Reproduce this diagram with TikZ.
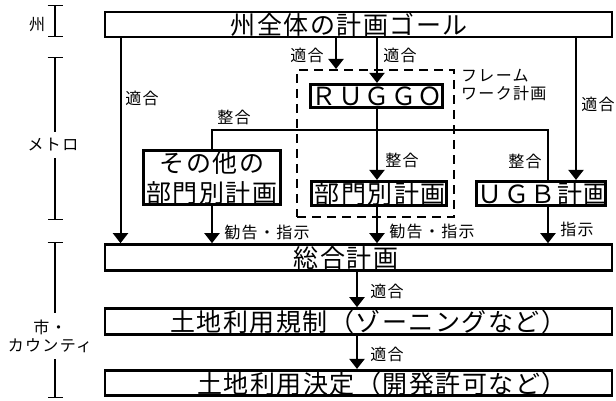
\documentclass[tikz,border=0pt]{standalone}
\usepackage{fontspec}
\newfontfamily\jbig[LetterSpace=6]{Noto Sans CJK JP}
\newfontfamily\jsm[LetterSpace=8]{Noto Sans CJK JP}
\usetikzlibrary{arrows.meta}
\begin{document}
\begin{tikzpicture}[x=1pt,y=-1pt,
  box/.style={draw, line width=2.6pt, inner sep=0pt},
  big/.style={font=\jbig\fontsize{25}{30}\selectfont, inner sep=0pt},
  sm/.style={font=\jsm\fontsize{16}{18}\selectfont, inner sep=0pt},
  arr/.style={line width=2pt, -{Triangle[width=15pt,length=10pt]}},
  conn/.style={line width=2pt},
  frm/.style={draw, line width=2pt, dash pattern=on 9pt off 6pt, inner sep=0pt},
  brk/.style={line width=1.4pt, {Bar[width=15pt]}-{Bar[width=15pt]}},
]
\useasboundingbox (0,0) rectangle (616,401);

% x positions of vertical connectors
\coordinate (xA) at (120.5,0);
\coordinate (xB) at (336,0);
\coordinate (xC) at (377,0);
\coordinate (xD) at (576,0);
\coordinate (xE) at (212,0);
\coordinate (xF) at (548,0);
\coordinate (xG) at (357,0);

% boxes
\node[box, minimum width=507pt, minimum height=25pt] (goal) at (358.5,24.5) {};
\node[big] (goalT) at (349,25) {州全体の計画ゴール};

\node[frm, minimum width=157pt, minimum height=147pt] (frame) at (375.5,143.5) {};

\node[box, minimum width=131.5pt, minimum height=23.5pt] (ruggo) at (376.5,96) {};
\node[big] (ruggoT) at (377,96.5) {ＲＵＧＧＯ};

\node[box, minimum width=137.5pt, minimum height=54.5pt] (sonota) at (212,177.5) {};
\node[big, align=center] (sonotaT) at (212,178.5) {その他の\\部門別計画};

\node[box, minimum width=135.5pt, minimum height=24.5pt] (bumon) at (379,193.5) {};
\node[big] (bumonT) at (380,194) {部門別計画};

\node[box, minimum width=129.5pt, minimum height=24.5pt] (ugb) at (541,193.5) {};
\node[big] (ugbT) at (543,194) {ＵＧＢ計画};

\node[box, minimum width=507pt, minimum height=26pt] (sogo) at (358.5,257.5) {};
\node[big] (sogoT) at (346,258) {総合計画};

\node[box, minimum width=507pt, minimum height=26pt] (kisei) at (358.5,321.5) {};
\node[big] (kiseiT) at (368,322) {土地利用規制（ゾーニングなど）};

\node[box, minimum width=507pt, minimum height=25.5pt] (kettei) at (358.5,383) {};
\node[big] (ketteiT) at (382,383.5) {土地利用決定（開発許可など）};

\node[sm, anchor=north west, align=left] (frameL) at (461,69) {フレーム\\ワーク計画};

% connectors from the state goal
\draw[arr] (goal.south -| xA) -- (sogo.north -| xA);
\draw[arr] (goal.south -| xB) -- (frame.north -| xB);
\draw[arr] (goal.south -| xC) -- (ruggo.north -| xC);
\draw[arr] (goal.south -| xD) -- (ugb.north -| xD);
\node[sm] (lA) at (142,98) {適合};
\node[sm] (lB) at (307,55) {適合};
\node[sm] (lC) at (400,55) {適合};
\node[sm] (lD) at (598,104) {適合};

% consistency links
\draw[arr] (ruggo.south -| xC) -- (bumon.north -| xC);
\node[sm] (lE) at (402,160) {整合};
\coordinate (jl) at (212,130);
\coordinate (jr) at (548,130);
\draw[conn] (sonota.north) -- (jl) -- (jr) -- (ugb.north -| jr);
\node[sm] (lF) at (234,117) {整合};
\node[sm] (lG) at (525,161) {整合};

% to comprehensive plan
\draw[arr] (sonota.south -| xE) -- (sogo.north -| xE);
\draw[arr] (bumon.south -| xC) -- (sogo.north -| xC);
\draw[arr] (ugb.south -| xF) -- (sogo.north -| xF);
\node[sm] (lH) at (267,232) {勧告・指示};
\node[sm] (lI) at (432,231) {勧告・指示};
\node[sm] (lJ) at (577,229) {指示};

% lower levels
\draw[arr] (sogo.south -| xG) -- (kisei.north -| xG);
\draw[arr] (kisei.south -| xG) -- (kettei.north -| xG);
\node[sm] (lK) at (387,291) {適合};
\node[sm] (lL) at (387,354) {適合};

% level brackets
\coordinate (shuT) at (55,5);
\coordinate (shuB) at (55,37);
\draw[brk] (shuT) -- (shuB);
\node[sm] (shu) at (37,25) {州};

\coordinate (metT) at (55,57);
\coordinate (metB) at (55,220);
\draw[brk] (metT) -- (metB);
\node[sm, fill=white, inner ysep=7pt] (met) at (53,145) {メトロ};

\coordinate (citT) at (55,242);
\coordinate (citB) at (55,398);
\draw[brk] (citT) -- (citB);
\node[sm, fill=white, inner ysep=7pt, align=center] (cit) at (50,336) {市・\\カウンティ};
\end{tikzpicture}
\end{document}
